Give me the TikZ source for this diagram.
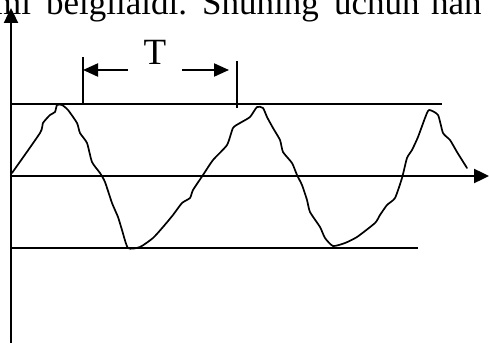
\documentclass[tikz,border=0pt]{standalone}
\usepackage{fontspec}
\setmainfont{Liberation Serif}
\usetikzlibrary{arrows.meta}

\tikzset{
  axis/.style={line width=2.4pt,-{Triangle[length=15pt,width=14pt]}},
  level/.style={line width=2pt},
  tick/.style={line width=2pt},
  span/.style={line width=2pt,-{Triangle[length=15pt,width=13pt]}},
  signal/.style={line width=1.7pt,line join=round,line cap=round},
  pagetext/.style={font=\fontsize{35}{40}\selectfont,inner sep=0pt,anchor=base west}
}

\begin{document}
\begin{tikzpicture}[x=1pt,y=1pt]
  \useasboundingbox (0,0) rectangle (489,343); % same window as the scan
  \clip (0,0) rectangle (489,343);
  % line of the page text above the figure
  \foreach \x/\w [count=\i] in {-6/mi, 46/belgilaldi., 202/Shuning, 334/uchun, 431/han}
    \node[pagetext] (w\i) at (\x,328) {\w};
  % axes
  \coordinate (o) at (11,167);
  \draw[axis] (11,0) -- (11,335);
  \draw[axis] (o) -- (489,167);
  % amplitude levels
  \draw[level] (11,239) -- (442,239);
  \draw[level] (11,95) -- (418,95);
  % the period T
  \coordinate (ta) at (83,239);
  \coordinate (tb) at (237,235);
  \draw[tick] (ta) -- ++(0,47);
  \draw[tick] (tb) -- ++(0,47);
  \draw[span] (128,273) -- (83,273);
  \draw[span] (182,273) -- (229,273);
  \node[pagetext,anchor=base,font=\fontsize{37}{42}\selectfont] (t) at (155,278) {T};
  % the measured signal
  \draw[signal] plot[smooth,tension=0.35] coordinates {
    (12,170) (40,210) (43,220) (50,228) (55,231) (57,238) (62,238) (68,233)
    (77,220) (80,210) (87,200) (92,181) (100,170) (105,161) (112,140) (118,126)
    (122,113) (128,95) (140,96) (153,105) (163,116) (173,128) (182,140) (190,145)
    (193,153) (203,168) (213,183) (227,198) (233,215) (240,220) (250,226) (257,236)
    (263,235) (267,226) (273,215) (280,203) (283,191) (292,180) (297,168) (302,158)
    (307,143) (310,131) (320,116) (325,105) (333,97) (345,100) (357,106) (375,120)
    (380,128) (387,138) (395,145) (402,165) (407,185) (412,193) (418,206) (425,225)
    (429,233) (438,228) (443,210) (450,203) (457,191) (467,175)};
\end{tikzpicture}
\end{document}
